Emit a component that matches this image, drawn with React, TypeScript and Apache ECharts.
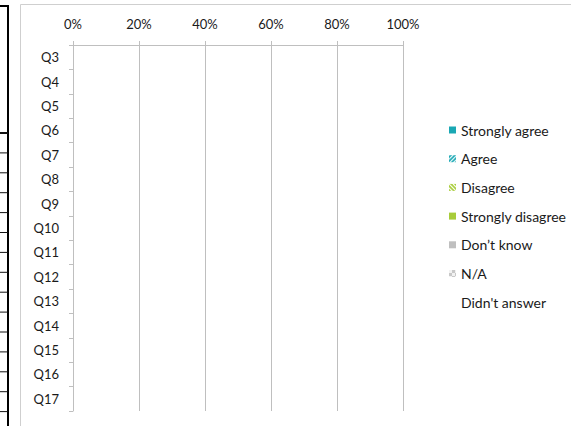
import React, { useEffect, useRef } from "react";
import * as echarts from "echarts";

const categories = ["Q3", "Q4", "Q5", "Q6", "Q7", "Q8", "Q9", "Q10", "Q11", "Q12", "Q13", "Q14", "Q15", "Q16", "Q17"];
const seriesNames = ["Strongly agree", "Agree", "Disagree", "Strongly disagree", "Don’t know", "N/A", "Didn't answer"];
const stronglyAgree = [0, 0, 0, 0, 0, 0, 0, 0, 0, 0, 0, 0, 0, 0, 0];
const agree = [0, 0, 0, 0, 0, 0, 0, 0, 0, 0, 0, 0, 0, 0, 0];
const disagree = [0, 0, 0, 0, 0, 0, 0, 0, 0, 0, 0, 0, 0, 0, 0];
const stronglyDisagree = [0, 0, 0, 0, 0, 0, 0, 0, 0, 0, 0, 0, 0, 0, 0];
const dontKnow = [0, 0, 0, 0, 0, 0, 0, 0, 0, 0, 0, 0, 0, 0, 0];
const notApplicable = [0, 0, 0, 0, 0, 0, 0, 0, 0, 0, 0, 0, 0, 0, 0];
const didntAnswer = [0, 0, 0, 0, 0, 0, 0, 0, 0, 0, 0, 0, 0, 0, 0];
const xTicks = [0, 20, 40, 60, 80, 100];

const TEAL = "#1aa8b4";
const GREEN = "#a8cc3a";
const GRAY = "#bfbfbf";
const AXIS = "#bfbfbf";
const TEXT = "#1a1a1a";
const FONT = "Lato";

function stripes(color: string, dir: 1 | -1) {
  const c = document.createElement("canvas");
  c.width = 8;
  c.height = 8;
  const ctx = c.getContext("2d")!;
  ctx.fillStyle = color;
  ctx.fillRect(0, 0, 8, 8);
  ctx.strokeStyle = "#ffffff";
  ctx.lineWidth = 1.2;
  for (let k = -8; k <= 16; k += 4) {
    ctx.beginPath();
    if (dir === 1) {
      ctx.moveTo(k, 8);
      ctx.lineTo(k + 8, 0);
    } else {
      ctx.moveTo(k, 0);
      ctx.lineTo(k + 8, 8);
    }
    ctx.stroke();
  }
  return { image: c, repeat: "repeat", imageWidth: 8, imageHeight: 8 };
}

function checker() {
  const c = document.createElement("canvas");
  c.width = 6;
  c.height = 6;
  const ctx = c.getContext("2d")!;
  ctx.fillStyle = "#f2f2f2";
  ctx.fillRect(0, 0, 6, 6);
  ctx.fillStyle = "#c8c8c8";
  ctx.fillRect(3, 0, 3, 3);
  ctx.fillRect(0, 3, 3, 3);
  return { image: c, repeat: "repeat", imageWidth: 6, imageHeight: 6 };
}

export default function App() {
  const ref = useRef<HTMLDivElement>(null);
  useEffect(() => {
    if (!ref.current) return;
    const chart = echarts.init(ref.current, undefined, { renderer: "svg" });
    const colors: any[] = [
      TEAL,
      stripes(TEAL, 1),
      stripes(GREEN, -1),
      GREEN,
      GRAY,
      checker(),
      "rgba(255,255,255,0)",
    ];
    const values = [stronglyAgree, agree, disagree, stronglyDisagree, dontKnow, notApplicable, didntAnswer];

    const leftLines: any[] = [];
    for (let i = 0; i < 15; i++) {
      const y = 133 + i * 19.9;
      leftLines.push({
        type: "line",
        shape: { x1: 0, y1: y, x2: 8, y2: y },
        style: { stroke: "#111", lineWidth: i === 0 ? 2 : 1 },
        silent: true,
      });
    }

    chart.setOption({
      animation: false,
      backgroundColor: "#ffffff",
      graphic: [
        {
          type: "rect",
          shape: { x: 20.5, y: 4.5, width: 700, height: 600 },
          style: { fill: "none", stroke: "#cfcfcf", lineWidth: 1 },
          silent: true,
        },
        {
          type: "line",
          shape: { x1: 8, y1: 5, x2: 8, y2: 430 },
          style: { stroke: "#000", lineWidth: 2 },
          silent: true,
        },
        {
          type: "line",
          shape: { x1: 0, y1: 6, x2: 9, y2: 6 },
          style: { stroke: "#000", lineWidth: 2 },
          silent: true,
        },
        ...leftLines,
      ],
      legend: {
        orient: "vertical",
        left: 444,
        top: 117,
        icon: "rect",
        itemWidth: 7,
        itemHeight: 7,
        itemGap: 12.7,
        data: seriesNames,
        textStyle: { fontFamily: FONT, fontSize: 14, color: TEXT, lineHeight: 16 },
        selectedMode: false,
      },
      grid: { left: 73, right: 168, top: 45, bottom: 15, containLabel: false },
      xAxis: {
        type: "value",
        position: "top",
        min: xTicks[0],
        max: xTicks[xTicks.length - 1],
        interval: xTicks[1] - xTicks[0],
        axisLine: { show: true, lineStyle: { color: AXIS, width: 1 } },
        axisTick: { show: true, length: 4, lineStyle: { color: AXIS } },
        splitLine: { show: true, lineStyle: { color: AXIS, width: 1 } },
        axisLabel: {
          formatter: "{value}%",
          fontFamily: FONT,
          fontSize: 13,
          color: TEXT,
          margin: 15,
        },
      },
      yAxis: {
        type: "category",
        inverse: true,
        data: categories,
        axisLine: { show: true, lineStyle: { color: AXIS, width: 1 } },
        axisTick: { show: true, length: 4, alignWithLabel: false, lineStyle: { color: AXIS } },
        splitLine: { show: false },
        axisLabel: { fontFamily: FONT, fontSize: 13, color: TEXT, margin: 14 },
      },
      series: seriesNames.map((name, i) => ({
        name,
        type: "bar",
        stack: "total",
        barWidth: "60%",
        itemStyle: { color: colors[i] },
        data: values[i],
      })),
    });
    return () => chart.dispose();
  }, []);
  return (
    <div
      ref={ref}
      style={{ position: "absolute", left: 0, top: 0, width: 571, height: 426 }}
    />
  );
}
